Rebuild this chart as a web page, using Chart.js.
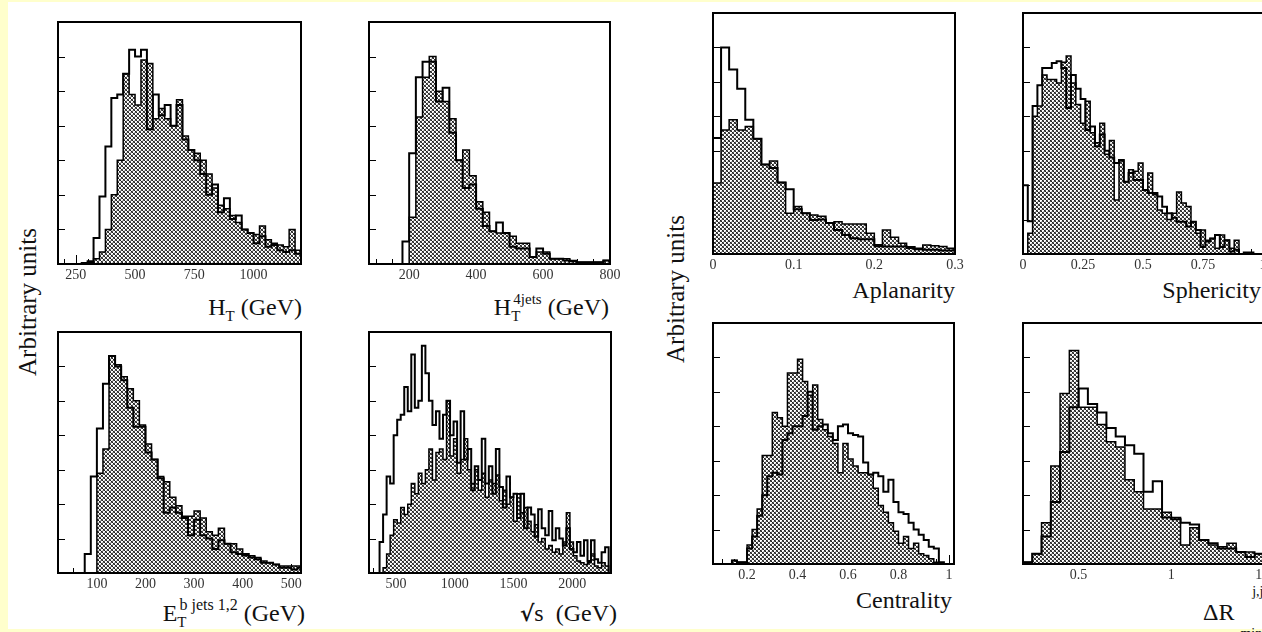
<!DOCTYPE html>
<html>
<head>
<meta charset="utf-8">
<script src="https://cdn.jsdelivr.net/npm/chart.js@4.4.1/dist/chart.umd.min.js"></script>
<style>
  html, body { margin: 0; padding: 0; overflow: hidden; background: #fff; }
  body { width: 1262px; height: 632px; position: relative; font-family: "Liberation Serif", "Times New Roman", serif; color: #111; }
  .edge { position: absolute; left: 0; top: 0; width: 1262px; height: 632px; box-sizing: border-box;
          border-left: 8px solid #ffffcc; border-top: 2px solid #ffffcc; border-bottom: 3px solid #ffffcc; }
  canvas { position: absolute; }
  .t { position: absolute; font-size: 24px; line-height: 24px; white-space: nowrap; transform: translateX(-100%); }
  .t sub, .t sup { line-height: 0; font-size: 15px; }
  .t sub { vertical-align: -6px; }
  .t sup { vertical-align: 11px; }
  .rad { font-family: "DejaVu Serif", serif; font-weight: bold; font-size: 22px; }
  .ylab { position: absolute; font-size: 25px; white-space: nowrap; transform: translate(-50%, -50%) rotate(-90deg); }
</style>
</head>
<body>
<div class="edge"></div>

<div class="ylab" style="left:28px;top:302px">Arbitrary units</div>
<div class="ylab" style="left:676px;top:289px">Arbitrary units</div>

<div class="t" style="left:302px;top:295px">H<sub>T</sub> (GeV)</div>
<div class="t" style="left:609px;top:295px">H<sub>T</sub><sup style="margin-left:-7px">4jets</sup> (GeV)</div>
<div class="t" style="left:305px;top:601px">E<sub>T</sub><sup style="margin-left:-7px;font-size:16px">b jets 1,2</sup> (GeV)</div>
<div class="t" style="left:617px;top:601px"><span class="rad">√</span>s&nbsp;&nbsp;(GeV)</div>
<div class="t" style="left:955px;top:278px">Aplanarity</div>
<div class="t" style="left:1261px;top:278px">Sphericity</div>
<div class="t" style="left:952px;top:588px">Centrality</div>
<div class="t" style="left:1203px;top:592px;transform:none">ΔR<sub style="margin-left:6px;font-size:14px;vertical-align:-18px">min</sub><sup style="margin-left:-10px;font-size:14px;vertical-align:24px">j,j</sup></div>

<script>
// ---- data: bin start, bin width, open (outline) and hatched histograms ----
const yTicks = [1, 2, 3, 4, 5, 6];

const htStart = 250, htWidth = 25;
const htTicks = [250, 500, 750, 1000];
const htOpen = [0.0, 0.03, 0.08, 0.75, 1.95, 3.4, 4.8, 4.9, 5.5, 6.2, 6.0, 6.2, 3.9, 4.9, 4.3, 4.6, 4.0, 4.6, 3.6, 3.3,
  3.0, 2.6, 2.0, 2.3, 1.5, 1.9, 1.3, 1.4, 1.0, 0.9, 0.6, 0.8, 0.5, 0.55, 0.4, 0.35, 0.4, 0.3];
const htHatch = [0, 0, 0.05, 0.15, 0.35, 1.0, 2.0, 3.0, 5.5, 4.9, 4.6, 5.9, 5.8, 4.2, 4.5, 4.2, 4.0, 4.75, 3.7, 3.3,
  3.2, 3.0, 2.6, 2.2, 1.7, 1.6, 1.4, 1.2, 1.0, 0.9, 0.85, 1.1, 0.7, 0.6, 0.55, 0.5, 1.0, 0.4];

const ht4Start = 180, ht4Width = 20;
const ht4Ticks = [200, 400, 600, 800];
const ht4Open = [0.65, 3.2, 5.4, 5.85, 5.85, 4.7, 5.1, 3.8, 3.0, 2.2, 2.3, 1.6, 1.1, 0.95, 1.2, 0.9, 0.5, 0.45, 0.45, 0.2,
  0.45, 0.3, 0.15, 0.15, 0.1, 0.08, 0.05, 0.05, 0.05, 0.05, 0.1];
const ht4Hatch = [0, 1.35, 4.25, 5.4, 6.0, 5.0, 4.7, 4.2, 3.0, 3.3, 2.55, 1.8, 1.5, 0.95, 0.9, 0.9, 0.8, 0.6, 0.6, 0.2,
  0.35, 0.35, 0.15, 0.15, 0.15, 0.1, 0.05, 0.05, 0.05, 0.05, 0.1];

const etStart = 75, etWidth = 12.5;
const etTicks = [100, 200, 300, 400, 500];
const etOpen = [0.55, 2.8, 4.2, 5.5, 6.3, 6.0, 5.6, 4.8, 4.25, 4.25, 3.5, 3.3, 2.75, 1.75, 1.9, 1.75, 1.6, 1.1, 1.55, 1.1,
  1.0, 0.7, 0.95, 0.85, 0.6, 0.55, 0.55, 0.45, 0.4, 0.3, 0.3, 0.25, 0.15, 0.15, 0.1, 0.15];
const etHatch = [0, 0, 2.9, 3.6, 6.3, 6.05, 5.7, 5.35, 5.0, 4.3, 3.75, 3.3, 2.8, 2.65, 2.2, 1.95, 1.65, 1.65, 1.8, 1.6,
  1.2, 1.1, 1.3, 0.85, 0.85, 0.7, 0.5, 0.5, 0.45, 0.35, 0.3, 0.25, 0.2, 0.2, 0.2, 0.2];

const sStart = 330, sWidth = 30;
const sTicks = [500, 1000, 1500, 2000];
const sOpen = [0.0, 0.9, 1.7, 2.8, 2.6, 4.0, 4.45, 4.6, 5.4, 4.7, 6.35, 4.8, 5.0, 6.6, 5.8, 5.0, 4.3, 4.7, 3.9, 4.6,
  5.0, 4.0, 4.4, 3.2, 4.7, 3.3, 3.6, 2.4, 3.1, 2.7, 3.9, 2.6, 3.1, 2.3, 3.6, 2.5, 1.9, 2.8, 2.2, 2.3,
  1.6, 2.3, 1.3, 1.9, 1.7, 1.05, 1.85, 1.3, 1.1, 1.8, 0.95, 1.3, 1.0, 0.8, 1.3, 0.7, 0.6, 0.9, 0.5, 0.95,
  0.35, 0.95, 0.4, 0.3, 0.6, 0.75];
const sHatch = [0, 0, 0.15, 0.55, 1.1, 1.55, 1.45, 1.9, 1.7, 2.0, 2.6, 2.3, 2.9, 2.6, 3.0, 3.6, 2.7, 3.5, 3.6, 3.3,
  5.0, 3.4, 3.9, 2.9, 3.3, 3.9, 3.0, 2.6, 3.0, 2.4, 2.9, 2.2, 2.7, 2.6, 2.85, 2.1, 2.4, 2.0, 2.2, 1.5,
  2.3, 1.75, 1.9, 1.5, 1.2, 1.4, 0.9, 1.0, 0.7, 0.8, 0.6, 0.7, 0.55, 0.9, 1.75, 0.9, 0.5, 0.35, 0.3, 0.25,
  0.3, 0.55, 0.2, 0.15, 0.3, 0.2];

const aplStart = 0, aplWidth = 0.01;
const aplTicks = [0, 0.1, 0.2, 0.3];
const aplOpen = [3.37, 6.0, 5.36, 4.8, 3.9, 3.35, 2.6, 2.5, 2.08, 1.88, 1.3, 1.18, 0.99, 1.0, 0.9, 0.7, 0.55, 0.46, 0.43, 0.43,
  0.26, 0.22, 0.22, 0.22, 0.2, 0.14, 0.12, 0.12, 0.1, 0.1];
const aplHatch = [2.06, 3.6, 3.9, 3.6, 3.7, 3.35, 2.6, 2.7, 2.08, 1.18, 1.38, 1.18, 1.13, 1.1, 0.9, 0.94, 0.87, 0.87, 0.87, 0.6,
  0.22, 0.7, 0.49, 0.31, 0.17, 0.17, 0.26, 0.24, 0.22, 0.17];

const sphStart = 0, sphWidth = 0.02;
const sphTicks = [0, 0.25, 0.5, 0.75, 1];
const sphOpen = [2.0, 0.95, 4.3, 4.9, 5.4, 5.4, 5.55, 5.6, 5.4, 4.24, 5.2, 4.8, 4.5, 3.6, 3.7, 3.13, 3.47, 3.0, 2.8, 2.64,
  2.73, 2.1, 2.35, 2.15, 2.15, 1.86, 1.77, 1.77, 1.67, 1.37, 1.18, 1.05, 0.94, 0.94, 0.8, 0.94, 0.7, 0.2, 0.36, 0.45,
  0.55, 0.2, 0.4, 0.07, 0.12, 0.0, 0.04, 0.04, 0.0, 0.0];
const sphHatch = [0.0, 0.6, 4.0, 4.3, 5.2, 5.07, 5.07, 4.97, 5.57, 5.75, 4.97, 4.34, 3.8, 4.44, 3.52, 3.23, 3.8, 2.9, 3.3, 1.57,
  2.7, 2.1, 2.45, 2.4, 2.64, 1.86, 2.35, 1.72, 1.28, 1.18, 1.0, 1.18, 1.8, 1.48, 1.38, 0.94, 0.6, 0.7, 0.4, 0.45,
  0.17, 0.55, 0.4, 0.17, 0.4, 0.0, 0.0, 0.0, 0.0, 0.0];

const cenStart = 0.14, cenWidth = 0.02;
const cenTicks = [0.2, 0.4, 0.6, 0.8, 1];
const cenOpen = [0.1, 0.05, 0.05, 0.45, 0.8, 1.4, 2.0, 2.55, 2.65, 2.6, 3.6, 3.8, 4.0, 4.0, 4.3, 5.0, 3.9, 4.0, 4.05, 3.8,
  3.6, 4.0, 4.05, 3.8, 3.75, 3.7, 2.95, 2.6, 2.65, 2.55, 2.1, 2.45, 1.8, 1.5, 1.45, 1.2, 1.0, 0.85, 0.7, 0.5,
  0.45, 0.05];
const cenHatch = [0.1, 0.05, 0.05, 0.55, 1.0, 1.6, 3.15, 3.15, 4.4, 4.25, 4.0, 5.55, 5.55, 5.95, 5.3, 4.9, 5.2, 4.2, 3.9, 3.7,
  3.5, 2.65, 3.5, 3.05, 2.85, 2.65, 2.65, 2.6, 2.2, 1.7, 1.5, 1.2, 0.95, 0.6, 0.8, 0.45, 0.6, 0.3, 0.25, 0.15,
  0.05, 0.0];

const drStart = 0.2, drWidth = 0.05;
const drTicks = [0.5, 1, 1.5];
const drOpen = [0.05, 0.3, 0.8, 1.8, 3.25, 4.55, 5.1, 4.65, 4.4, 3.95, 3.7, 3.45, 3.2, 2.1, 2.4, 1.35, 1.3, 1.2, 1.15, 0.7,
  0.6, 0.45, 0.45, 0.35, 0.2, 0.3];
const drHatch = [0.05, 0.3, 1.2, 2.85, 4.95, 6.2, 4.55, 4.55, 4.05, 3.55, 3.4, 2.45, 2.1, 1.6, 1.6, 1.5, 1.35, 0.55, 1.05, 0.7,
  0.55, 0.5, 0.6, 0.35, 0.35, 0.3];

// ---- layout: plot frame [left, top, right, bottom] in page pixels ----
const panels = [
  { box: [58, 22, 301, 264],    xMin: 175, xMax: 1200, minor: 50,  xTicks: htTicks,  start: htStart,  width: htWidth,  open: htOpen,  hatch: htHatch },
  { box: [369, 22, 610, 264],   xMin: 80,  xMax: 800,  minor: 50,  xTicks: ht4Ticks, start: ht4Start, width: ht4Width, open: ht4Open, hatch: ht4Hatch },
  { box: [58, 332, 301, 573],   xMin: 20,  xMax: 520,  minor: 50,  xTicks: etTicks,  start: etStart,  width: etWidth,  open: etOpen,  hatch: etHatch },
  { box: [369, 332, 611, 573],  xMin: 270, xMax: 2330, minor: 100, xTicks: sTicks,   start: sStart,   width: sWidth,   open: sOpen,   hatch: sHatch },
  { box: [713, 13, 955, 254],   xMin: 0,   xMax: 0.3,  minor: 0.05, xTicks: aplTicks, start: aplStart, width: aplWidth, open: aplOpen, hatch: aplHatch },
  { box: [1023, 13, 1263, 254], xMin: 0,   xMax: 1,    minor: 0.05, xTicks: sphTicks, start: sphStart, width: sphWidth, open: sphOpen, hatch: sphHatch },
  { box: [713, 323, 954, 564],  xMin: 0.065, xMax: 1.02, minor: 0.05, xTicks: cenTicks, start: cenStart, width: cenWidth, open: cenOpen, hatch: cenHatch },
  { box: [1023, 323, 1264, 564], xMin: 0.2, xMax: 1.5, minor: 0.1, xTicks: drTicks,  start: drStart,  width: drWidth,  open: drOpen,  hatch: drHatch }
];

const PAD = 20, TOP = 4, AXIS_H = 24;

// cross-hatch fill like the original plots (diamond lattice)
function hatchPattern() {
  const c = document.createElement("canvas");
  c.width = 4; c.height = 4;
  const g = c.getContext("2d");
  g.fillStyle = "#fff"; g.fillRect(0, 0, 4, 4);
  for (let i = 0; i < 4; i++) {
    g.fillStyle = "#222"; g.fillRect(i, i, 1, 1);
    g.fillStyle = "#555"; g.fillRect(3 - i, i, 1, 1);
  }
  g.fillStyle = "#c8c8c8";
  g.fillRect(2, 0, 1, 1);
  g.fillRect(0, 2, 1, 1);
  return g.createPattern(c, "repeat");
}
const hatch = hatchPattern();

// histogram as a step line: one point per bin lower edge, closed at both ends
function steps(start, width, vals) {
  const pts = [{ x: start, y: 0 }];
  vals.forEach((v, i) => pts.push({ x: start + i * width, y: v }));
  pts.push({ x: start + vals.length * width, y: 0 });
  return pts;
}

// inward ticks + closed frame
const frameTicks = {
  id: "frameTicks",
  beforeDatasetsDraw(chart, args, opts) {
    const { ctx, chartArea: a, scales: { x, y } } = chart;
    ctx.save();
    ctx.strokeStyle = "#000";
    ctx.lineWidth = 1;
    ctx.beginPath();
    yTicks.forEach((v) => {
      const py = Math.round(y.getPixelForValue(v)) + 0.5;
      ctx.moveTo(a.left, py);
      ctx.lineTo(a.left + 7, py);
    });
    const st = opts.minor;
    for (let n = Math.ceil(x.min / st - 1e-6); n * st <= x.max + 1e-9; n++) {
      const v = n * st;
      const px = Math.round(x.getPixelForValue(v)) + 0.5;
      const major = opts.xTicks.some((t) => Math.abs(t - v) < st / 10);
      ctx.moveTo(px, a.bottom);
      ctx.lineTo(px, a.bottom - (major ? 9 : 5));
    }
    ctx.stroke();
    ctx.restore();
  },
  afterDatasetsDraw(chart) {
    const { ctx, chartArea: a } = chart;
    ctx.save();
    ctx.strokeStyle = "#000";
    ctx.lineWidth = 2;
    ctx.strokeRect(a.left, a.top, a.right - a.left, a.bottom - a.top);
    ctx.restore();
  },
};

function makeChart(p) {
  const [l, t, r, b] = p.box;
  const cv = document.createElement("canvas");
  cv.width = r - l + 2 * PAD;
  cv.height = b - t + TOP + AXIS_H;
  cv.style.left = l - PAD + "px";
  cv.style.top = t - TOP + "px";
  document.body.appendChild(cv);

  new Chart(cv.getContext("2d"), {
    type: "line",
    data: {
      datasets: [
        {
          label: "open",
          data: steps(p.start, p.width, p.open),
          stepped: true,
          fill: false,
          borderColor: "#000",
          borderWidth: 2,
          pointRadius: 0,
          order: 0,
        },
        {
          label: "hatched",
          data: steps(p.start, p.width, p.hatch),
          stepped: true,
          fill: "origin",
          backgroundColor: hatch,
          borderColor: "#000",
          borderWidth: 1.5,
          pointRadius: 0,
          order: 1,
        },
      ],
    },
    options: {
      responsive: false,
      animation: false,
      events: [],
      layout: { padding: { left: PAD, right: PAD, top: TOP, bottom: 0 } },
      plugins: {
        legend: { display: false },
        tooltip: { enabled: false },
        frameTicks: { xTicks: p.xTicks, minor: p.minor },
      },
      scales: {
        x: {
          type: "linear",
          min: p.xMin,
          max: p.xMax,
          grid: { display: false, drawTicks: false },
          border: { display: false },
          ticks: {
            font: { family: "Liberation Serif", size: 14 },
            color: "#333",
            padding: 3,
            maxRotation: 0,
            autoSkip: false,
            callback: (v) => String(v),
          },
          afterBuildTicks: (s) => {
            s.ticks = p.xTicks.map((v) => ({ value: v }));
          },
          afterFit: (s) => {
            s.height = AXIS_H;
          },
        },
        y: { display: false, min: 0, max: 7 },
      },
    },
    plugins: [frameTicks],
  });
}

panels.forEach(makeChart);
</script>
</body>
</html>
